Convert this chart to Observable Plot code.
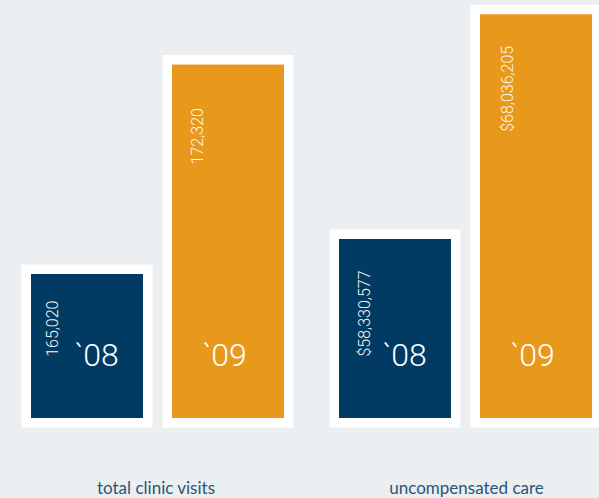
<!DOCTYPE html>
<html><head><meta charset="utf-8">
<script src="https://cdn.jsdelivr.net/npm/d3@7"></script>
<script src="https://cdn.jsdelivr.net/npm/@observablehq/plot@0.6"></script>
<style>
html,body{margin:0;padding:0;background:#ebeff2;width:599px;height:498px;overflow:hidden}
#wrap{display:flex;}
#wrap svg{flex:none;background:transparent;}
</style></head><body><div id="wrap"></div>
<script>
const years = ["`08", "`09"];
const visits = [165020, 172320];
const visitLabels = ["165,020", "172,320"];
const care = [58330577, 68036205];
const careLabels = ["$58,330,577", "$68,036,205"];
const groups = ["total clinic visits", "uncompensated care"];
const colors = ["#013a63", "#e8981b"];

function makePlot({values, labels, group, width, xRange, yDomain, groupDx, valDx, valDy}) {
  const rows = years.map((y, i) => ({year: y, value: values[i], label: labels[i]}));
  const base = yDomain[0];
  const valueMarks = rows.map((r, i) => Plot.text([r], {
    x: "year", y: "value", text: "label", rotate: -90, textAnchor: "end",
    dx: valDx[i], dy: valDy[i], fill: "#fbf7f0", fontSize: 16, fontFamily: "Roboto", fontWeight: 300
  }));
  return Plot.plot({
    width, height: 498,
    marginTop: 0, marginBottom: 80, marginLeft: 0, marginRight: 0,
    style: {background: "transparent", overflow: "visible"},
    x: {domain: years, range: xRange, paddingInner: 29 / 141, paddingOuter: 0, axis: null},
    y: {domain: yDomain, axis: null},
    color: {domain: years, range: colors},
    marks: [
      Plot.barY(rows, {x: "year", y1: base, y2: "value", fill: "white", stroke: "white", strokeWidth: 19}),
      Plot.barY(rows, {x: "year", y1: base, y2: "value", fill: "year"}),
      ...valueMarks,
      Plot.text(rows.filter(d => d.year === "`08"), {x: "year", text: "year", frameAnchor: "bottom", lineAnchor: "bottom", dy: -53, dx: 9, fill: "white", fontSize: 32, fontFamily: "Roboto", fontWeight: 300}),
      Plot.text(rows.filter(d => d.year === "`09"), {x: "year", text: "year", frameAnchor: "bottom", lineAnchor: "bottom", dy: -53, dx: -4, fill: "white", fontSize: 32, fontFamily: "Roboto", fontWeight: 300}),
      Plot.text([group], {text: d => d, frameAnchor: "bottom", lineAnchor: "bottom", dy: 75, dx: groupDx, fill: "#2a5579", fontSize: 17, fontFamily: "Lato"})
    ]
  });
}

const wrap = document.getElementById("wrap");
wrap.append(makePlot({
  values: visits, labels: visitLabels, group: groups[0], width: 300,
  xRange: [31, 284], yDomain: [160000, 174572], groupDx: 5.5,
  valDx: [-35, -31], valDy: [26, 43]
}));
wrap.append(makePlot({
  values: care, labels: careLabels, group: groups[1], width: 299,
  xRange: [39, 292], yDomain: [50600000, 68652000], groupDx: 16.5,
  valDx: [-31, -29], valDy: [31, 31]
}));
</script></body></html>
